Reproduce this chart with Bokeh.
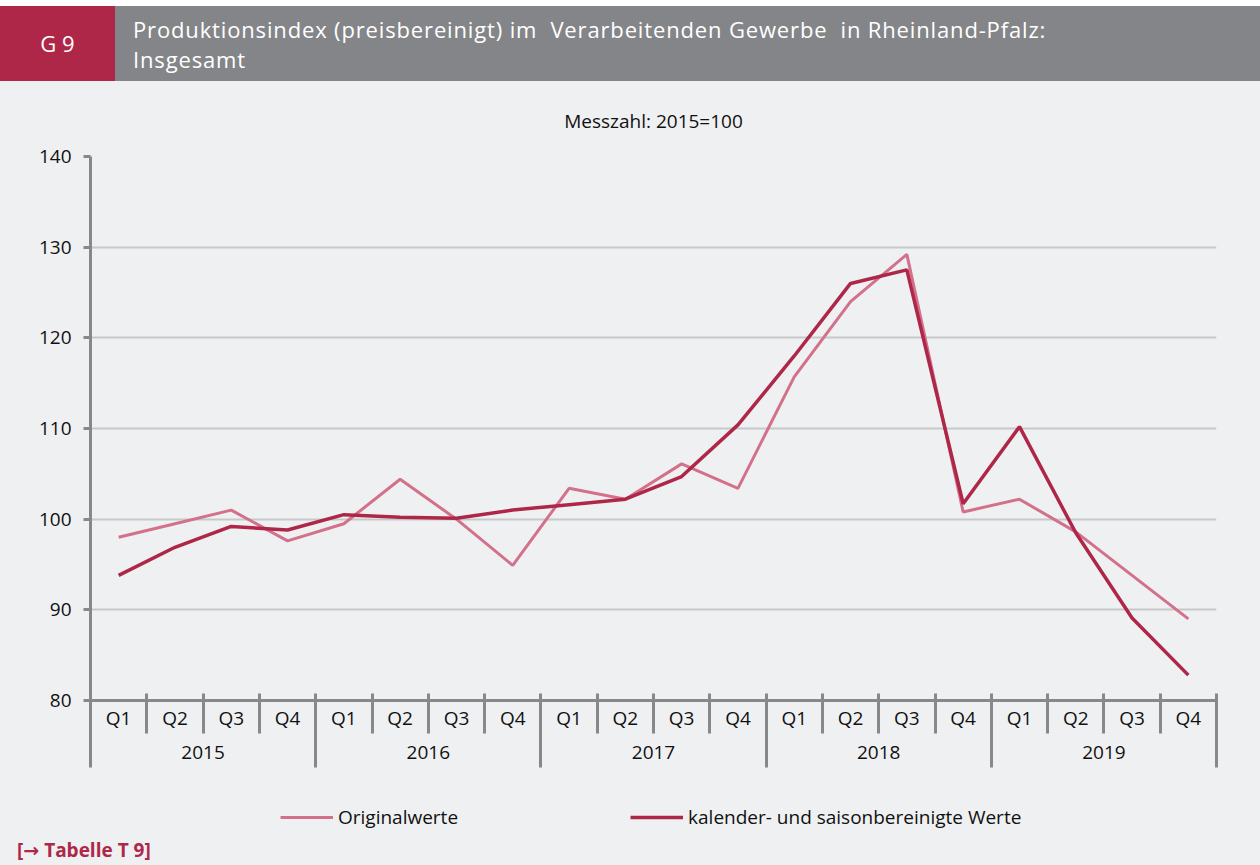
from bokeh.plotting import figure
from bokeh.models import (Range1d, SingleIntervalTicker, FixedTicker, LinearAxis, Legend,
                          LegendItem, Div)
from bokeh.layouts import column
from bokeh.embed import file_html
from bokeh.resources import INLINE

# ---- data -------------------------------------------------------------
years = ["2015", "2016", "2017", "2018", "2019"]
quarters = ["Q1", "Q2", "Q3", "Q4"]
original = [98.0, 99.5, 101.0, 97.6,
            99.5, 104.4, 100.0, 94.9,
            103.4, 102.2, 106.1, 103.4,
            115.7, 124.0, 129.2, 100.8,
            102.2, 98.6, 93.8, 89.0]
adjusted = [93.8, 96.9, 99.2, 98.8,
            100.5, 100.2, 100.1, 101.0,
            101.6, 102.2, 104.7, 110.4,
            118.0, 126.0, 127.5, 101.7,
            110.2, 98.5, 89.1, 82.8]
series_names = ["Originalwerte", "kalender- und saisonbereinigte Werte"]
y_min, y_max, y_step = 80, 140, 10
title_text = "Produktionsindex (preisbereinigt) im  Verarbeitenden Gewerbe  in Rheinland-Pfalz:"
subtitle_text = "Insgesamt"
chart_no = "G 9"
unit_text = "Messzahl: 2015=100"
link_text = "[\u2192 Tabelle T 9]"

# ---- styling ----------------------------------------------------------
FONT = "Open Sans"
BG = "#eff0f2"
RED = "#ae2748"
PINK = "#d3718b"
GREY_HEAD = "#848588"
AXIS = "#87888a"
GRID = "#c7c8ca"
TXT = "#111111"

W = 1260
HEAD_H = 81
MAIN_H = 699
LEG_H = 55
FOOT_H = 865 - HEAD_H - MAIN_H - LEG_H

nq = len(quarters)
n = len(years) * nq
# category positions on the x scale: one unit per quarter
x_pos = [i + 0.5 for i in range(n)]
q_labels = {x_pos[i]: quarters[i % nq] for i in range(n)}
q_bounds = [float(i) for i in range(n + 1)]
y_centers = [j * nq + nq / 2 for j in range(len(years))]
y_labels = {y_centers[j]: years[j] for j in range(len(years))}
y_bounds = [float(j * nq) for j in range(len(years) + 1)]

p = figure(width=W, height=MAIN_H, output_backend="svg", toolbar_location=None,
           x_range=Range1d(0, n), y_range=Range1d(y_min, y_max),
           min_border_left=90, min_border_right=44, min_border_top=75, min_border_bottom=80,
           background_fill_color=BG, border_fill_color=BG, outline_line_color=None,
           title=unit_text)
p.title.align = "center"
p.title.text_font = FONT
p.title.text_font_size = "19px"
p.title.text_font_style = "normal"
p.title.text_color = TXT
p.title.standoff = 45

p.xgrid.grid_line_color = None
p.ygrid.grid_line_color = GRID
p.ygrid.grid_line_width = 2

# y axis
p.yaxis.ticker = SingleIntervalTicker(interval=y_step)
p.yaxis.axis_line_color = AXIS
p.yaxis.axis_line_width = 3
p.yaxis.major_tick_line_color = AXIS
p.yaxis.major_tick_line_width = 3
p.yaxis.major_tick_in = 0
p.yaxis.major_tick_out = 7
p.yaxis.minor_tick_line_color = None
p.yaxis.major_label_text_font = FONT
p.yaxis.major_label_text_font_size = "19px"
p.yaxis.major_label_text_color = TXT
p.yaxis.major_label_standoff = 12

# x axis 1: quarters, with separators as minor ticks
xa = p.xaxis[0]
xa.ticker = FixedTicker(ticks=x_pos, minor_ticks=q_bounds)
xa.major_label_overrides = q_labels
xa.axis_line_color = AXIS
xa.axis_line_width = 3
xa.major_tick_line_color = None
xa.major_tick_out = 0
xa.major_tick_in = 0
xa.minor_tick_line_color = AXIS
xa.minor_tick_line_width = 3
xa.minor_tick_in = 7
xa.minor_tick_out = 33
xa.major_label_text_font = FONT
xa.major_label_text_font_size = "19px"
xa.major_label_text_color = TXT
xa.major_label_standoff = -29

# x axis 2: years, with long separators as minor ticks
ya = LinearAxis(ticker=FixedTicker(ticks=y_centers, minor_ticks=y_bounds),
                major_label_overrides=y_labels,
                axis_line_color=None, major_tick_line_color=None,
                major_tick_in=0, major_tick_out=0,
                minor_tick_line_color=AXIS, minor_tick_line_width=3,
                minor_tick_in=32, minor_tick_out=34,
                major_label_text_font=FONT, major_label_text_font_size="19px",
                major_label_text_color=TXT, major_label_standoff=-22)
p.add_layout(ya, "below")

# lines
p.line(x_pos, original, line_color=PINK, line_width=3)
p.line(x_pos, adjusted, line_color=RED, line_width=3.5)

# legend strip (series drawn off-range so only the legend samples show)
lg = figure(width=W, height=LEG_H, output_backend="svg", toolbar_location=None,
            x_range=Range1d(0, n), y_range=Range1d(0, 1), x_axis_type=None, y_axis_type=None,
            min_border_left=90, min_border_right=44, min_border_top=0, min_border_bottom=0,
            background_fill_color=BG, border_fill_color=BG, outline_line_color=None)
lg.xgrid.grid_line_color = None
lg.ygrid.grid_line_color = None
d1 = lg.line(x_pos, original, line_color=PINK, line_width=3)
d2 = lg.line(x_pos, adjusted, line_color=RED, line_width=3.5)
legend = Legend(items=[LegendItem(label=series_names[0], renderers=[d1]),
                       LegendItem(label=series_names[1], renderers=[d2])],
                orientation="horizontal", location=(190, 5),
                glyph_width=53, glyph_height=24, label_height=24, spacing=172, label_standoff=5,
                label_text_font=FONT, label_text_font_size="19px", label_text_color=TXT,
                background_fill_alpha=0, border_line_color=None, margin=0, padding=0)
lg.add_layout(legend)

header = Div(width=W, height=HEAD_H, margin=0, text=(
    f'<div style="position:relative;width:{W}px;height:{HEAD_H}px;background:white;">'
    f'<div style="position:absolute;left:0;top:6px;width:{W}px;height:{HEAD_H - 6}px;background:{GREY_HEAD};"></div>'
    f'<div style="position:absolute;left:0;top:6px;width:115px;height:{HEAD_H - 6}px;background:{RED};'
    f'color:white;font-family:\'{FONT}\';font-size:22px;display:flex;align-items:center;'
    f'justify-content:center;">{chart_no}</div>'
    f'<div style="position:absolute;left:133px;top:14px;color:white;font-family:\'{FONT}\';'
    f'font-size:22px;letter-spacing:0.85px;line-height:30px;white-space:pre;">{title_text}<br>{subtitle_text}</div>'
    '</div>'))

footer = Div(width=W, height=FOOT_H, margin=0, text=(
    f'<div style="width:{W}px;height:{FOOT_H}px;background:{BG};">'
    f'<div style="padding-left:17px;line-height:{FOOT_H}px;color:{RED};font-family:\'{FONT}\',\'DejaVu Sans\';'
    f'font-size:19px;font-weight:bold;">{link_text}</div></div>'))

layout = column(header, p, lg, footer, spacing=0, styles={"background": BG})

open("out.html", "w").write(file_html(layout, INLINE))
